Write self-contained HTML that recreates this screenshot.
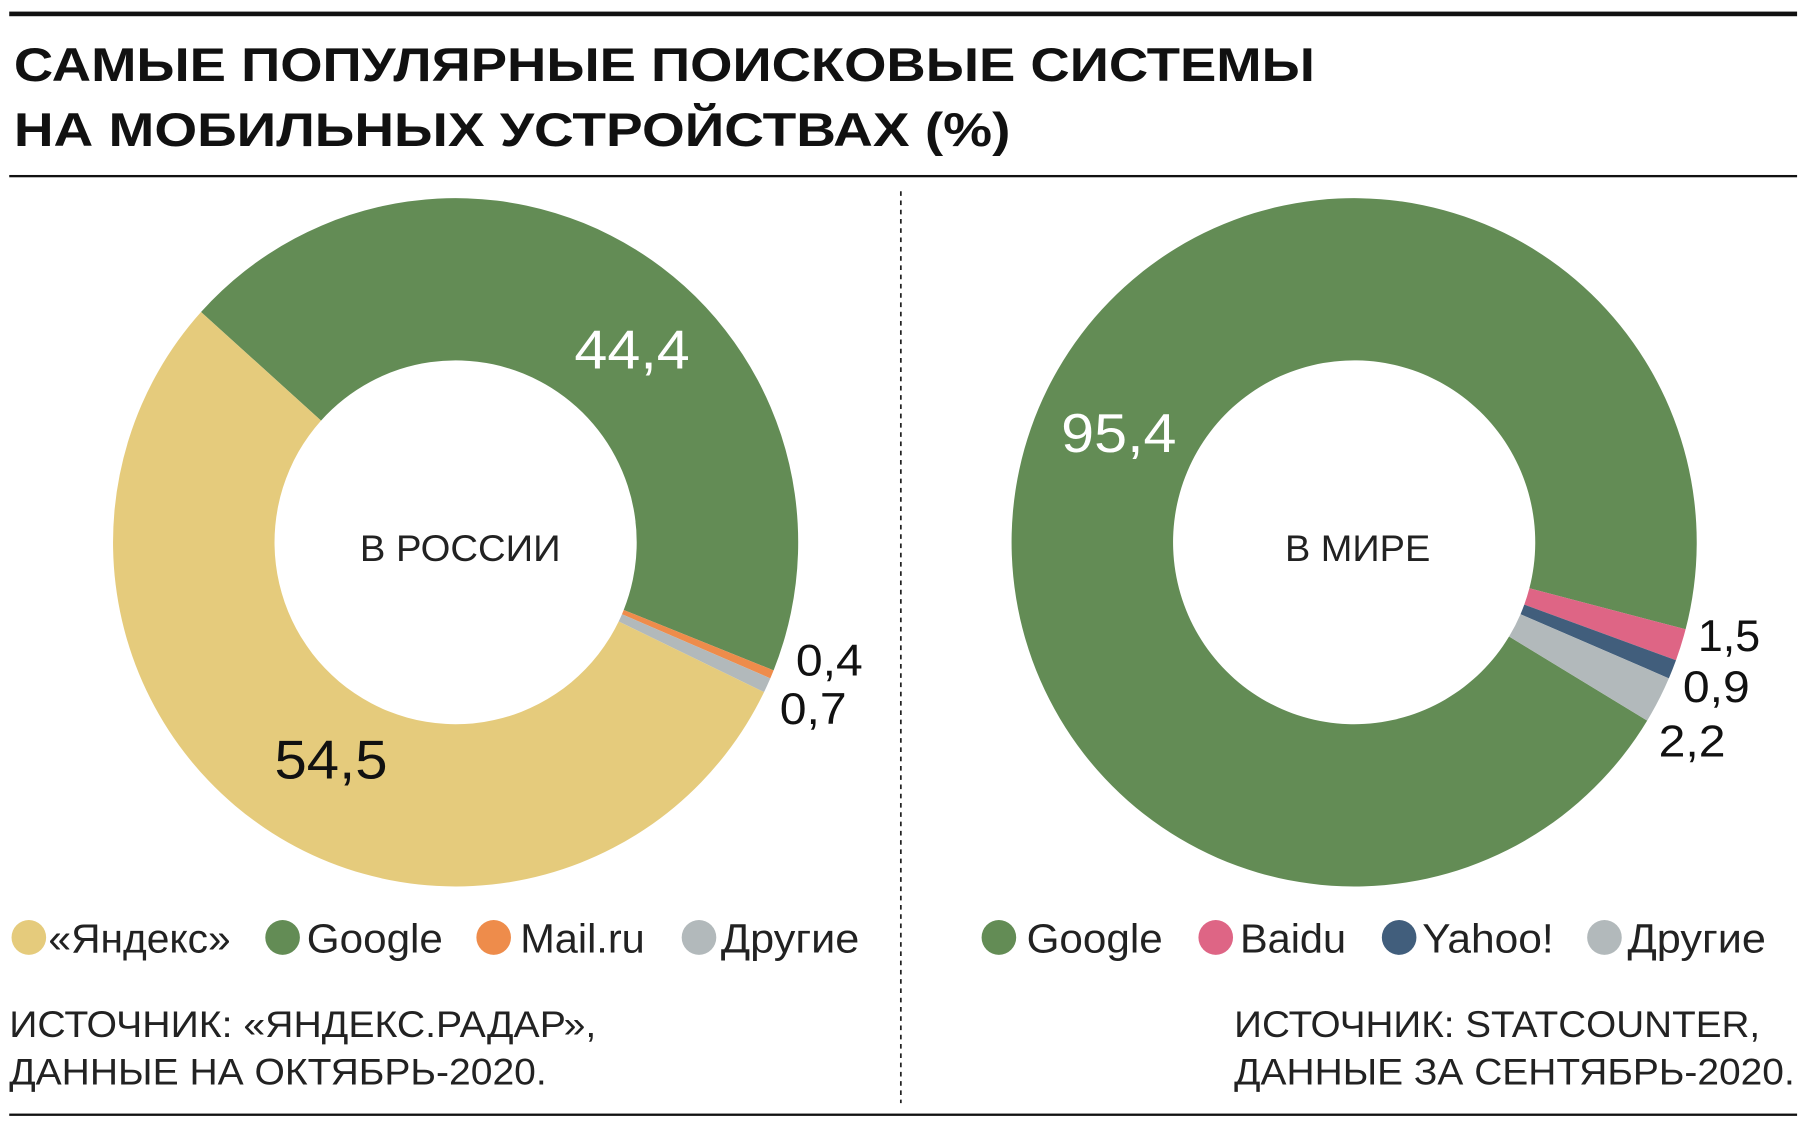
<!DOCTYPE html>
<html><head><meta charset="utf-8"><style>
html,body{margin:0;padding:0;background:#fff}
svg{display:block}
text{font-family:"Liberation Sans",sans-serif}
</style></head><body>
<svg id="s" width="1804" height="1124" viewBox="0 0 1564 970" preserveAspectRatio="none" xmlns="http://www.w3.org/2000/svg">
<rect width="1564" height="970" fill="#fff"/>
<rect x="8" y="10" width="1550" height="4" fill="#111"/>
<rect x="8" y="151" width="1550" height="2" fill="#111"/>
<rect x="8" y="961" width="1550" height="2" fill="#111"/>
<line x1="781" y1="165" x2="781" y2="952" stroke="#222" stroke-width="1.5" stroke-dasharray="4,4"/>
<text x="12" y="70" font-size="41" font-weight="bold" fill="#111" textLength="1128" lengthAdjust="spacingAndGlyphs">САМЫЕ ПОПУЛЯРНЫЕ ПОИСКОВЫЕ СИСТЕМЫ</text>
<text x="12" y="126" font-size="41" font-weight="bold" fill="#111" textLength="864" lengthAdjust="spacingAndGlyphs">НА МОБИЛЬНЫХ УСТРОЙСТВАХ (%)</text>
<g id="d"></g>
<text x="312" y="484" font-size="32" fill="#222" textLength="174" lengthAdjust="spacingAndGlyphs">В РОССИИ</text>
<text x="1114" y="484" font-size="32" fill="#222" textLength="126" lengthAdjust="spacingAndGlyphs">В МИРЕ</text>
<text x="498" y="318" font-size="47" fill="#fff" textLength="100" lengthAdjust="spacingAndGlyphs">44,4</text>
<text x="238" y="672" font-size="47" fill="#111" textLength="98" lengthAdjust="spacingAndGlyphs">54,5</text>
<text x="920" y="390" font-size="47" fill="#fff" textLength="100" lengthAdjust="spacingAndGlyphs">95,4</text>
<g font-size="38" fill="#111">
<text x="690" y="583" textLength="58" lengthAdjust="spacingAndGlyphs">0,4</text><text x="676" y="625" textLength="58" lengthAdjust="spacingAndGlyphs">0,7</text>
<text x="1472" y="562" textLength="54" lengthAdjust="spacingAndGlyphs">1,5</text><text x="1459" y="606" textLength="58" lengthAdjust="spacingAndGlyphs">0,9</text><text x="1438" y="653" textLength="58" lengthAdjust="spacingAndGlyphs">2,2</text>
</g>
<g font-size="35" fill="#222" lengthAdjust="spacingAndGlyphs">
<circle cx="25" cy="809" r="15" fill="#e5cb7c"/><text x="42" y="822" textLength="158" lengthAdjust="spacingAndGlyphs">«Яндекс»</text>
<circle cx="245" cy="809" r="15" fill="#638c55"/><text x="266" y="822" textLength="118" lengthAdjust="spacingAndGlyphs">Google</text>
<circle cx="428" cy="809" r="15" fill="#ee8c4b"/><text x="451" y="822" textLength="108" lengthAdjust="spacingAndGlyphs">Mail.ru</text>
<circle cx="606" cy="809" r="15" fill="#b2b9bb"/><text x="625" y="822" textLength="120" lengthAdjust="spacingAndGlyphs">Другие</text>
<circle cx="866" cy="809" r="15" fill="#638c55"/><text x="890" y="822" textLength="118" lengthAdjust="spacingAndGlyphs">Google</text>
<circle cx="1054" cy="809" r="15" fill="#de6585"/><text x="1075" y="822" textLength="92" lengthAdjust="spacingAndGlyphs">Baidu</text>
<circle cx="1213" cy="809" r="15" fill="#415e7c"/><text x="1233" y="822" textLength="114" lengthAdjust="spacingAndGlyphs">Yahoo!</text>
<circle cx="1391" cy="809" r="15" fill="#b2b9bb"/><text x="1411" y="822" textLength="120" lengthAdjust="spacingAndGlyphs">Другие</text>
</g>
<g font-size="32" fill="#222">
<text x="8" y="895" textLength="509" lengthAdjust="spacingAndGlyphs">ИСТОЧНИК: «ЯНДЕКС.РАДАР»,</text>
<text x="8" y="936" textLength="466" lengthAdjust="spacingAndGlyphs">ДАННЫЕ НА ОКТЯБРЬ-2020.</text>
<text x="1070" y="895" textLength="456" lengthAdjust="spacingAndGlyphs">ИСТОЧНИК: STATCOUNTER,</text>
<text x="1070" y="936" textLength="486" lengthAdjust="spacingAndGlyphs">ДАННЫЕ ЗА СЕНТЯБРЬ-2020.</text>
</g>
</svg>
<script>
function arc(cx,cy,R,r,a0,a1,col){
 function p(rad,a){var t=a*Math.PI/180;return [cx+rad*Math.sin(t),cy-rad*Math.cos(t)];}
 var l=(a1-a0)>180?1:0,A=p(R,a0),B=p(R,a1),C=p(r,a1),D=p(r,a0);
 return '<path fill="'+col+'" d="M'+A+' A'+R+' '+R+' 0 '+l+' 1 '+B+' L'+C+' A'+r+' '+r+' 0 '+l+' 0 '+D+' Z"/>';
}
var h='',R=297,r=157;
var s=312,segs=[[44.4,'#638c55'],[0.4,'#ee8c4b'],[0.7,'#b2b9bb'],[54.5,'#e5cb7c']];
segs.forEach(function(g){var e=s+g[0]*3.6;h+=arc(395,468,R,r,s,e,g[1]);s=e;});
s=121.2-360;segs=[[95.4,'#638c55'],[1.5,'#de6585'],[0.9,'#415e7c'],[2.2,'#b2b9bb']];
segs.forEach(function(g){var e=s+g[0]*3.6;h+=arc(1174,468,R,r,s,e,g[1]);s=e;});
document.getElementById('d').innerHTML=h;
</script>
</body></html>
